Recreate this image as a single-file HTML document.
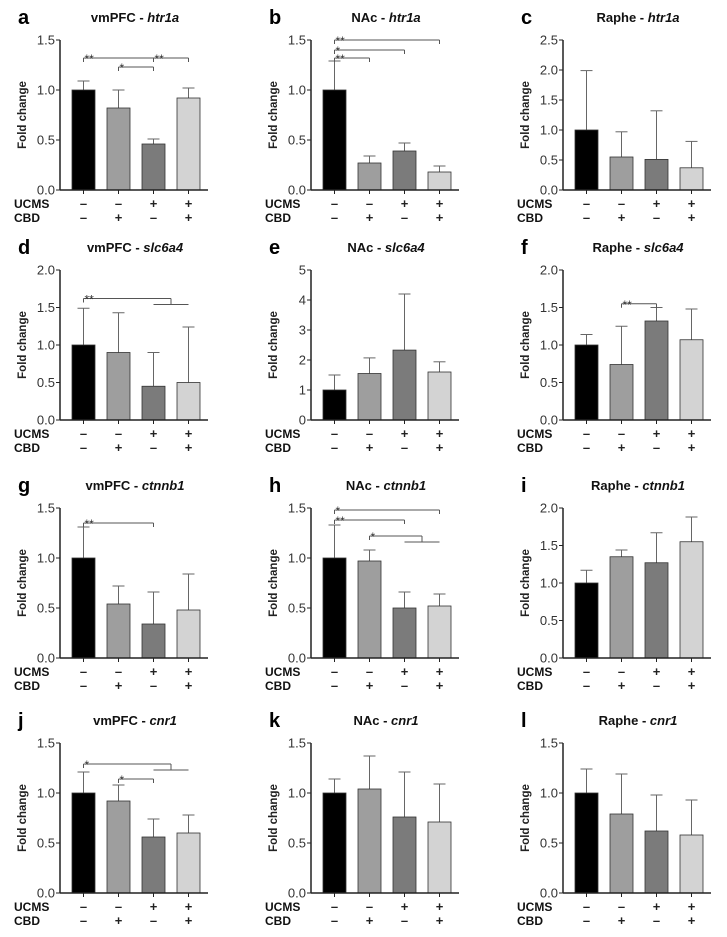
<!DOCTYPE html>
<html><head><meta charset="utf-8">
<style>
html,body{margin:0;padding:0;background:#fff;}
svg{display:block;font-family:"Liberation Sans",Arial,sans-serif;}
</style></head>
<body>
<svg id="fig" width="727" height="937" viewBox="0 0 727 937"></svg>
<script>
// Panel data
const panelLetters = ["a","b","c","d","e","f","g","h","i","j","k","l"];
const regions = ["vmPFC","NAc","Raphe","vmPFC","NAc","Raphe","vmPFC","NAc","Raphe","vmPFC","NAc","Raphe"];
const genes = ["htr1a","htr1a","htr1a","slc6a4","slc6a4","slc6a4","ctnnb1","ctnnb1","ctnnb1","cnr1","cnr1","cnr1"];
const yMaxes = [1.5,1.5,2.5,2.0,5,2.0,1.5,1.5,2.0,1.5,1.5,1.5];
const yTickSteps = [0.5,0.5,0.5,0.5,1,0.5,0.5,0.5,0.5,0.5,0.5,0.5];
const groups = ["CTRL","CBD","UCMS","UCMS+CBD"];
const ucmsSigns = ["–","–","+","+"];
const cbdSigns = ["–","+","–","+"];
const means_a=[1.0,0.82,0.46,0.92], err_a=[1.09,1.0,0.51,1.02];
const means_b=[1.0,0.27,0.39,0.18], err_b=[1.29,0.34,0.47,0.24];
const means_c=[1.0,0.55,0.51,0.37], err_c=[1.99,0.97,1.32,0.81];
const means_d=[1.0,0.9,0.45,0.5], err_d=[1.49,1.43,0.9,1.24];
const means_e=[1.0,1.55,2.33,1.6], err_e=[1.5,2.07,4.2,1.94];
const means_f=[1.0,0.74,1.32,1.07], err_f=[1.14,1.25,1.5,1.48];
const means_g=[1.0,0.54,0.34,0.48], err_g=[1.31,0.72,0.66,0.84];
const means_h=[1.0,0.97,0.5,0.52], err_h=[1.33,1.08,0.66,0.64];
const means_i=[1.0,1.35,1.27,1.55], err_i=[1.17,1.44,1.67,1.88];
const means_j=[1.0,0.92,0.56,0.6], err_j=[1.21,1.08,0.74,0.78];
const means_k=[1.0,1.04,0.76,0.71], err_k=[1.14,1.37,1.21,1.09];
const means_l=[1.0,0.79,0.62,0.58], err_l=[1.24,1.19,0.98,0.93];
const allMeans=[means_a,means_b,means_c,means_d,means_e,means_f,means_g,means_h,means_i,means_j,means_k,means_l];
const allErrs=[err_a,err_b,err_c,err_d,err_e,err_f,err_g,err_h,err_i,err_j,err_k,err_l];
// significance: [fromIdx, toIdx (or group [a,b]), y value, label]
const sigs = [
 [[0,2,1.32,"**"],[2,3,1.32,"**"],[1,2,1.23,"*"]],
 [[0,3,1.5,"**"],[0,2,1.4,"*"],[0,1,1.32,"**"]],
 [],
 [[0,[2,3],1.62,"**"]],
 [],
 [[1,2,1.55,"**"]],
 [[0,2,1.35,"**"]],
 [[0,3,1.48,"*"],[0,2,1.38,"**"],[1,[2,3],1.22,"*"]],
 [],
 [[0,[2,3],1.29,"*"],[1,2,1.14,"*"]],
 [],
 []
];
const colAxisX=[60,311,563];
const rowTop=[40,270,508,743];
const plotH=150, barW=23, step=35, barOff=12, axisLen=148;
const fills=["#000000","#9e9e9e","#7b7b7b","#d3d3d3"];
const NS="http://www.w3.org/2000/svg";
const svg=document.getElementById("fig");
function mk(tag,attrs,parent){const e=document.createElementNS(NS,tag);for(const k in attrs)e.setAttribute(k,attrs[k]);(parent||svg).appendChild(e);return e;}

for(let p=0;p<12;p++){
 const col=p%3,row=Math.floor(p/3);
 const ax=colAxisX[col], top=rowTop[row], zero=top+plotH;
 const ymax=yMaxes[p];
 const y=v=>zero-(v/ymax)*plotH;
 const xc=i=>ax+barOff+i*step+barW/2;
 const g=mk("g",{});
 
 
 const lt=mk("text",{x:ax-42,y:top-16,"font-size":20,"font-weight":"bold",fill:"#000"},g);
 lt.textContent=panelLetters[p];
 
 
 const tt=mk("text",{x:ax+75,y:top-18,"font-size":13,"font-weight":"bold","text-anchor":"middle",fill:"#111"},g);
 
 
 tt.appendChild(document.createTextNode(regions[p]+" - "));
 const ts=mk("tspan",{"font-style":"italic"},tt);ts.textContent=genes[p];
 const yt=mk("text",{transform:`translate(${ax-34},${top+plotH/2}) rotate(-90)`,"font-size":11.5,"font-weight":"bold","text-anchor":"middle",fill:"#222"},g);
 yt.textContent="Fold change";
 
 
 allMeans[p].forEach((m,i)=>{
  const ey=allErrs[p][i];
  const l=mk("line",{x1:xc(i),x2:xc(i),y1:y(ey),y2:y(m),stroke:"#666","stroke-width":1},g);
  
  
  const c=mk("line",{x1:xc(i)-6,x2:xc(i)+6,y1:y(ey),y2:y(ey),stroke:"#666","stroke-width":1},g);
  
  
  const r=mk("rect",{x:ax+barOff+i*step,y:y(m),width:barW,height:zero-y(m),fill:fills[i],stroke:"#333","stroke-width":0.8},g);
  
  
  const tk=mk("line",{x1:xc(i),x2:xc(i),y1:zero,y2:zero+4,stroke:"#222"},g);
  
  
  const u=mk("text",{x:xc(i),y:zero+18,"font-size":13,"font-weight":"bold","text-anchor":"middle",fill:"#222"},g);
  u.textContent=ucmsSigns[i];
  
  
  const cb=mk("text",{x:xc(i),y:zero+32,"font-size":13,"font-weight":"bold","text-anchor":"middle",fill:"#222"},g);
  cb.textContent=cbdSigns[i];
  
  
 });
 const yaxis=mk("line",{x1:ax,x2:ax,y1:top,y2:zero,stroke:"#222","stroke-width":1.5},g);
 
 
 const xaxis=mk("line",{x1:ax,x2:ax+axisLen,y1:zero,y2:zero,stroke:"#222","stroke-width":1.5},g);
 
 
 const nT=Math.round(ymax/yTickSteps[p]);
 for(let k=0;k<=nT;k++){
  const v=k*yTickSteps[p];
  const tl=mk("line",{x1:ax-4,x2:ax,y1:y(v),y2:y(v),stroke:"#222"},g);
  
  
  const tx=mk("text",{x:ax-5,y:y(v)+4.5,"font-size":13,"text-anchor":"end",fill:"#333"},g);
  tx.textContent=yTickSteps[p]<1?v.toFixed(1):String(v);
  
  
 }
 const ul=mk("text",{x:ax-46,y:zero+18,"font-size":12,"font-weight":"bold",fill:"#111"},g);
 ul.textContent="UCMS";
 
 
 const cl=mk("text",{x:ax-46,y:zero+32,"font-size":12,"font-weight":"bold",fill:"#111"},g);
 cl.textContent="CBD";
 
 
 sigs[p].forEach(s=>{
  const [a,b,v,lab]=s;
  const yy=y(v);
  let x2;
  if(Array.isArray(b)){
   const gy=y(v)+6;
   const gl=mk("line",{x1:xc(b[0]),x2:xc(b[1]),y1:gy,y2:gy,stroke:"#555"},g);
   
   
   x2=(xc(b[0])+xc(b[1]))/2;
   mk("line",{x1:x2,x2:x2,y1:yy,y2:gy,stroke:"#555"},g);
  } else {
   x2=xc(b);
   mk("line",{x1:x2,x2:x2,y1:yy,y2:yy+4,stroke:"#555"},g);
  }
  const bl=mk("line",{x1:xc(a),x2:x2,y1:yy,y2:yy,stroke:"#555"},g);
  
  
  mk("line",{x1:xc(a),x2:xc(a),y1:yy,y2:yy+4,stroke:"#555"},g);
  const st=mk("text",{x:xc(a)+1,y:yy+5,"font-size":12,fill:"#333"},g);
  st.textContent=lab;
  
  
 });
}
</script>
</body></html>
